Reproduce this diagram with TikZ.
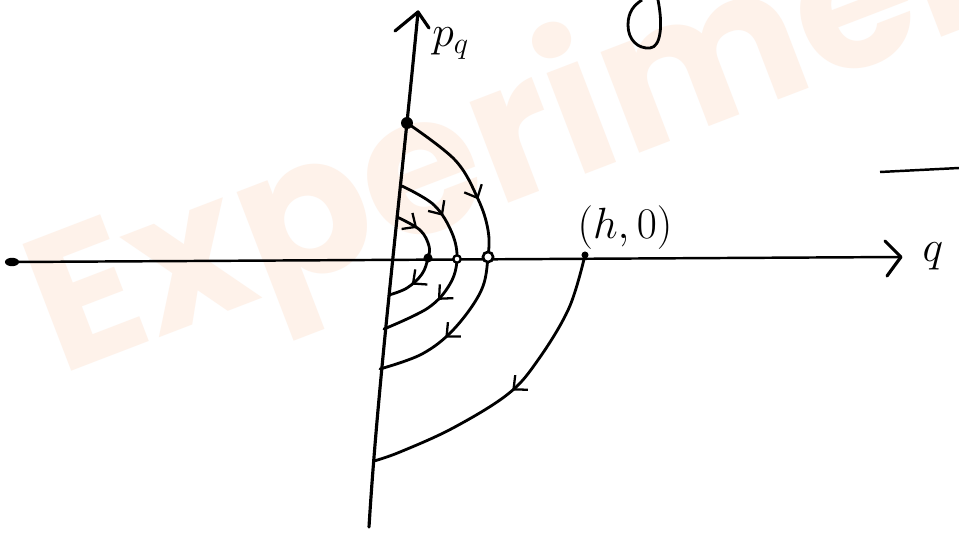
\documentclass[tikz,border=0pt]{standalone}
\usepackage{fontspec}
\newfontfamily\wmfont{Poppins}
\usetikzlibrary{arrows.meta,decorations.markings}
\definecolor{wmcol}{RGB}{254,242,234}
\definecolor{wmedge}{RGB}{251,230,216}
\begin{document}
\begin{tikzpicture}[x=0.02cm,y=-0.02cm,
  axisline/.style={line width=1.8pt, line cap=round, line join=round},
  traj/.style={line width=1.6pt, line cap=round, line join=round},
  flowtwo/.style 2 args={postaction={decorate}, decoration={markings,
     mark=at position #1 with {\arrow[line width=1.3pt]{Straight Barb[length=6pt,width=11pt]}},
     mark=at position #2 with {\arrow[line width=1.3pt]{Straight Barb[length=6pt,width=11pt]}}}},
  flowone/.style={postaction={decorate}, decoration={markings,
     mark=at position #1 with {\arrow[line width=1.3pt]{Straight Barb[length=6pt,width=11pt]}}}},
  lab/.style={inner sep=0pt, font=\fontsize{25}{30}\selectfont},
  biglab/.style={inner sep=0pt, font=\fontsize{25}{30}\selectfont},
]
\useasboundingbox (0,0) rectangle (959,537);
\fill[white] (0,0) rectangle (959,537);

% watermark
\node[rotate=21, anchor=base west, text=wmcol, inner sep=0pt,
      font=\wmfont\bfseries\fontsize{110}{130}\selectfont] (wmark) at (60,376) {Experiment};

% axes
\coordinate (ptop) at (418,12);
\coordinate (pbot) at (369,527);
\coordinate (ptopL) at (395,31);
\coordinate (ptopR) at (429,28);
\coordinate (qleft) at (12,262);
\coordinate (qright) at (901,257);
\coordinate (qheadU) at (885,241);
\coordinate (qheadD) at (887,276);

\draw[axisline] (pbot) .. controls (378,380) and (400,200) .. (ptop);
\draw[axisline] (ptopL) -- (ptop) -- (ptopR);
\draw[line width=1.4pt, line cap=round] (qleft) -- (qright);
\draw[axisline] (qheadU) .. controls (893,249) .. (qright) .. controls (895,265) .. (qheadD);
\fill (qleft) ellipse (4pt and 2.4pt);

% labels
\node[lab, anchor=base west] (plab) at (432,47) {$p_q$};
\node[lab] (qlab) at (933,256) {$q$};
\node[biglab, anchor=base] (hlab) at (625,238) {$(h,0)$};

% trajectory end points
\coordinate (s1) at (407,123);
\coordinate (s2) at (402,186);
\coordinate (s3) at (397,217);
\coordinate (e1) at (380,369);
\coordinate (e2) at (384,329);
\coordinate (e3) at (389,295);
\coordinate (x1) at (488,257);
\coordinate (x2) at (457,259);
\coordinate (x3) at (428,258);
\coordinate (h0) at (585,255);
\coordinate (eh) at (374,461);

% trajectories
\draw[traj, flowtwo={0.32}{0.78}] plot[smooth, tension=0.6] coordinates
  {(s1) (455,160) (478,199) (488,230) (x1) (481,291) (454,329) (422,354) (e1)};
\draw[traj, flowtwo={0.25}{0.70}] plot[smooth, tension=0.6] coordinates
  {(s2) (434,205) (452,233) (x2) (450,284) (428,308) (e2)};
\draw[traj, flowtwo={0.2}{0.78}] plot[smooth, tension=0.6] coordinates
  {(s3) (420,230) (429,246) (x3) (422,274) (407,288) (e3)};
\draw[traj, flowone={0.5}] plot[smooth, tension=0.6] coordinates
  {(h0) (569,308) (538,360) (508,394) (453,428) (400,452) (eh)};

% points
\fill (s1) circle (3.4pt);
\fill (x3) circle (2.6pt);
\draw[line width=1.3pt, fill=white] (x2) circle (2.1pt);
\draw[line width=1.5pt, fill=white] (x1) circle (2.9pt);
\fill (h0) circle (2pt);

% stray marks from the page
\coordinate (gA) at (658,0);
\coordinate (gB) at (642,0);
\draw[line width=1.6pt] (gA) .. controls (663,25) and (661,47) .. (650,48)
   .. controls (638,49) and (628,40) .. (628,25) .. controls (628,12) and (634,5) .. (gB);
\coordinate (rA) at (880,172);
\coordinate (rB) at (959,168);
\draw[line width=1.4pt] (rA) -- (rB);
\end{tikzpicture}
\end{document}
